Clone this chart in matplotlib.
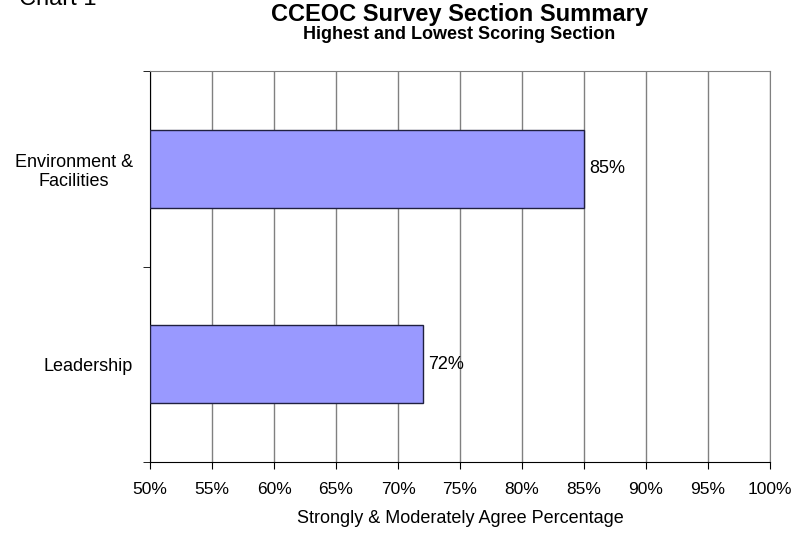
import matplotlib
matplotlib.use("Agg")
from matplotlib import pyplot as plt
from matplotlib.ticker import FixedLocator, NullFormatter
import numpy as np

plt.rcParams["font.family"] = ["Liberation Sans", "DejaVu Sans"]

# data
sections = ["Environment &\nFacilities", "Leadership"]
agree_pct = [85, 72]
xticks = list(range(50, 101, 5))
xtick_labels = [f"{t}%" for t in xticks]

BAR_COLOR = "#9999FF"
GRID_COLOR = "#808080"

fig = plt.figure(figsize=(7.95, 5.33), dpi=100)
ax = fig.add_axes([150 / 795, 1 - 462 / 533, 620 / 795, 391 / 533])

pos = np.arange(len(sections))
bars = ax.barh(pos, [v - 50 for v in agree_pct], left=50, height=0.4,
               color=BAR_COLOR, edgecolor="#202040", linewidth=1, zorder=3)

for b, v in zip(bars, agree_pct):
    ax.text(b.get_x() + b.get_width() + 0.4, b.get_y() + b.get_height() / 2,
            f"{v}%", va="center", ha="left", fontsize=13)

ax.set_xlim(50, 100)
ax.set_ylim(len(sections) - 0.5, -0.5)
ax.set_xticks(xticks)
ax.set_xticklabels(xtick_labels, fontsize=12.5)
ax.xaxis.grid(True, color=GRID_COLOR, linewidth=1, zorder=0)

ax.set_yticks(pos)
ax.set_yticklabels(sections, fontsize=13, multialignment="center")
ax.tick_params(axis="y", which="major", length=0, pad=12.5)
ax.yaxis.set_minor_locator(FixedLocator([-0.5, 0.5, 1.5]))
ax.yaxis.set_minor_formatter(NullFormatter())
ax.tick_params(axis="y", which="minor", length=5, direction="out", color="black")
ax.tick_params(axis="x", length=5, direction="out", color="black", pad=9.5)

for s in ["top", "right"]:
    ax.spines[s].set_color(GRID_COLOR)
for s in ["left", "bottom"]:
    ax.spines[s].set_color("black")

ax.set_xlabel("Strongly & Moderately Agree Percentage", fontsize=13, labelpad=9)

fig.text(0.578, 1 - 21 / 533, "CCEOC Survey Section Summary",
         ha="center", va="baseline", fontsize=17, fontweight="bold")
fig.text(0.578, 1 - 39 / 533, "Highest and Lowest Scoring Section",
         ha="center", va="baseline", fontsize=13, fontweight="bold")
fig.text(19 / 795, 1 - 5 / 533, "Chart 1", ha="left", va="baseline", fontsize=17)

fig.savefig("out.png", dpi=100)
